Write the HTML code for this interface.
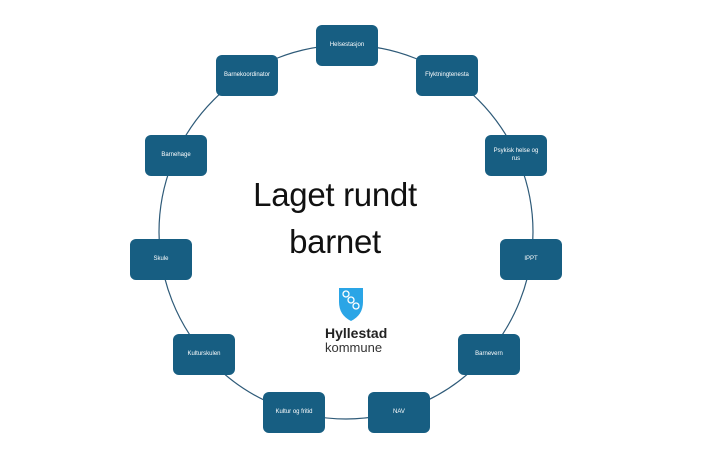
<!DOCTYPE html>
<html><head><meta charset="utf-8"><style>
body{margin:0;width:709px;height:469px;background:#fff;position:relative;overflow:hidden;font-family:"Liberation Sans",sans-serif}
.b{position:absolute;width:62px;height:41px;background:#175e82;border-radius:6px;color:#fff;font-size:6px;display:flex;align-items:center;justify-content:center;text-align:center;line-height:1.2}
.t{position:absolute;left:200px;width:270px;text-align:center;font-size:33px;color:#111;letter-spacing:-0.3px}
</style></head><body>
<svg width="709" height="469" style="position:absolute;left:0;top:0">
<circle cx="346" cy="232" r="187" fill="none" stroke="#2e5a78" stroke-width="1.2"/>
<path d="M339,288 L363,288 L363,302 Q363,315 351,321 Q339,315 339,302 Z" fill="#2aa5e6"/>
<circle cx="346" cy="294" r="3" fill="none" stroke="#fff" stroke-width="1.3"/>
<circle cx="351" cy="300" r="3" fill="none" stroke="#fff" stroke-width="1.3"/>
<circle cx="356" cy="306" r="3" fill="none" stroke="#fff" stroke-width="1.3"/>
</svg>
<div class="t" style="top:176px">Laget rundt</div>
<div class="t" style="top:223px">barnet</div>
<div style="position:absolute;left:325px;top:325px;font-size:14px;font-weight:bold;color:#222">Hyllestad</div>
<div style="position:absolute;left:325px;top:340px;font-size:13px;color:#333">kommune</div>
<div class="b" style="left:316px;top:25px">Helsestasjon</div>
<div class="b" style="left:416px;top:55px">Flyktningtenesta</div>
<div class="b" style="left:485px;top:135px">Psykisk helse og<br>rus</div>
<div class="b" style="left:500px;top:239px">IPPT</div>
<div class="b" style="left:458px;top:334px">Barnevern</div>
<div class="b" style="left:368px;top:392px">NAV</div>
<div class="b" style="left:263px;top:392px">Kultur og fritid</div>
<div class="b" style="left:173px;top:334px">Kulturskulen</div>
<div class="b" style="left:130px;top:239px">Skule</div>
<div class="b" style="left:145px;top:135px">Barnehage</div>
<div class="b" style="left:216px;top:55px">Barnekoordinator</div>
</body></html>
